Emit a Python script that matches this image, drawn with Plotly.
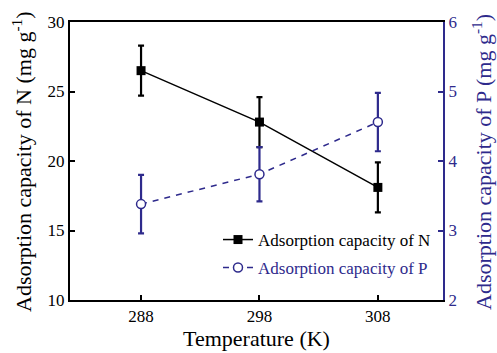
import plotly.graph_objects as go

temps = [288, 298, 308]
n_vals = [26.5, 22.8, 18.1]
n_err = [1.8, 1.8, 1.8]
p_vals = [3.38, 3.81, 4.56]
p_err = [0.42, 0.39, 0.42]

navy = "#2E2A8C"
font_family = "Liberation Serif"

L, R, T, B = 70, 54, 22, 53
W, H = 497, 353
pw, ph = W - L - R, H - T - B

fig = go.Figure()
fig.add_trace(go.Scatter(
    x=temps, y=n_vals, name="Adsorption capacity of N",
    mode="lines+markers",
    line=dict(color="black", width=1.5),
    marker=dict(symbol="square", size=9, color="black"),
    error_y=dict(type="data", array=n_err, color="black", thickness=2.2, width=3),
    legend="legend",
))
fig.add_trace(go.Scatter(
    x=temps, y=p_vals, name="Adsorption capacity of P", yaxis="y2",
    mode="lines+markers",
    line=dict(color=navy, width=1.5, dash="6px,6px"),
    marker=dict(symbol="circle", size=9, color="white", line=dict(color=navy, width=1.5)),
    error_y=dict(type="data", array=p_err, color=navy, thickness=2.2, width=3),
    legend="legend2",
))

fig.update_layout(
    width=W, height=H,
    margin=dict(l=L, r=R, t=T, b=B),
    plot_bgcolor="white", paper_bgcolor="white",
    showlegend=True,
    font=dict(family=font_family, size=17, color="black"),
    xaxis=dict(
        range=[282, 313.5], tickvals=temps, ticktext=[str(t) for t in temps],
        ticks="inside", ticklen=5, tickwidth=1.5, tickcolor="black",
        showline=True, linecolor="black", linewidth=2, mirror=True,
        showgrid=False, zeroline=False, automargin=False,
        title=dict(text="Temperature (K)", font=dict(size=22), standoff=2),
    ),
    yaxis=dict(
        range=[10, 30], tickvals=[10, 15, 20, 25, 30],
        ticks="inside", ticklen=5, tickwidth=1.5, tickcolor="black",
        showline=True, linecolor="black", linewidth=2,
        showgrid=False, zeroline=False, automargin=False,
    ),
    yaxis2=dict(
        range=[2, 6], tickvals=[2, 3, 4, 5, 6], overlaying="y", side="right",
        ticks="inside", ticklen=5, tickwidth=1.5, tickcolor=navy,
        tickfont=dict(color=navy),
        showline=True, linecolor=navy, linewidth=2,
        showgrid=False, zeroline=False, automargin=False,
    ),
    legend=dict(x=(218 - L) / pw, y=1 - (240 - T) / ph, xanchor="left", yanchor="middle",
                bgcolor="rgba(0,0,0,0)", font=dict(size=17, color="black")),
    legend2=dict(x=(218 - L) / pw, y=1 - (268 - T) / ph, xanchor="left", yanchor="middle",
                 bgcolor="rgba(0,0,0,0)", font=dict(size=17, color=navy)),
    annotations=[
        dict(text="Adsorption capacity of N (mg g<sup>-1</sup>)", textangle=-90,
             xref="paper", yref="paper", x=(22 - L) / pw, y=1 - (162 - T) / ph,
             xanchor="center", yanchor="middle", showarrow=False,
             font=dict(size=22, color="black")),
        dict(text="Adsorption capacity of P (mg g<sup>-1</sup>)", textangle=-90,
             xref="paper", yref="paper", x=(482 - L) / pw, y=1 - (162 - T) / ph,
             xanchor="center", yanchor="middle", showarrow=False,
             font=dict(size=22, color=navy)),
    ],
)

fig.write_html("out.html")
